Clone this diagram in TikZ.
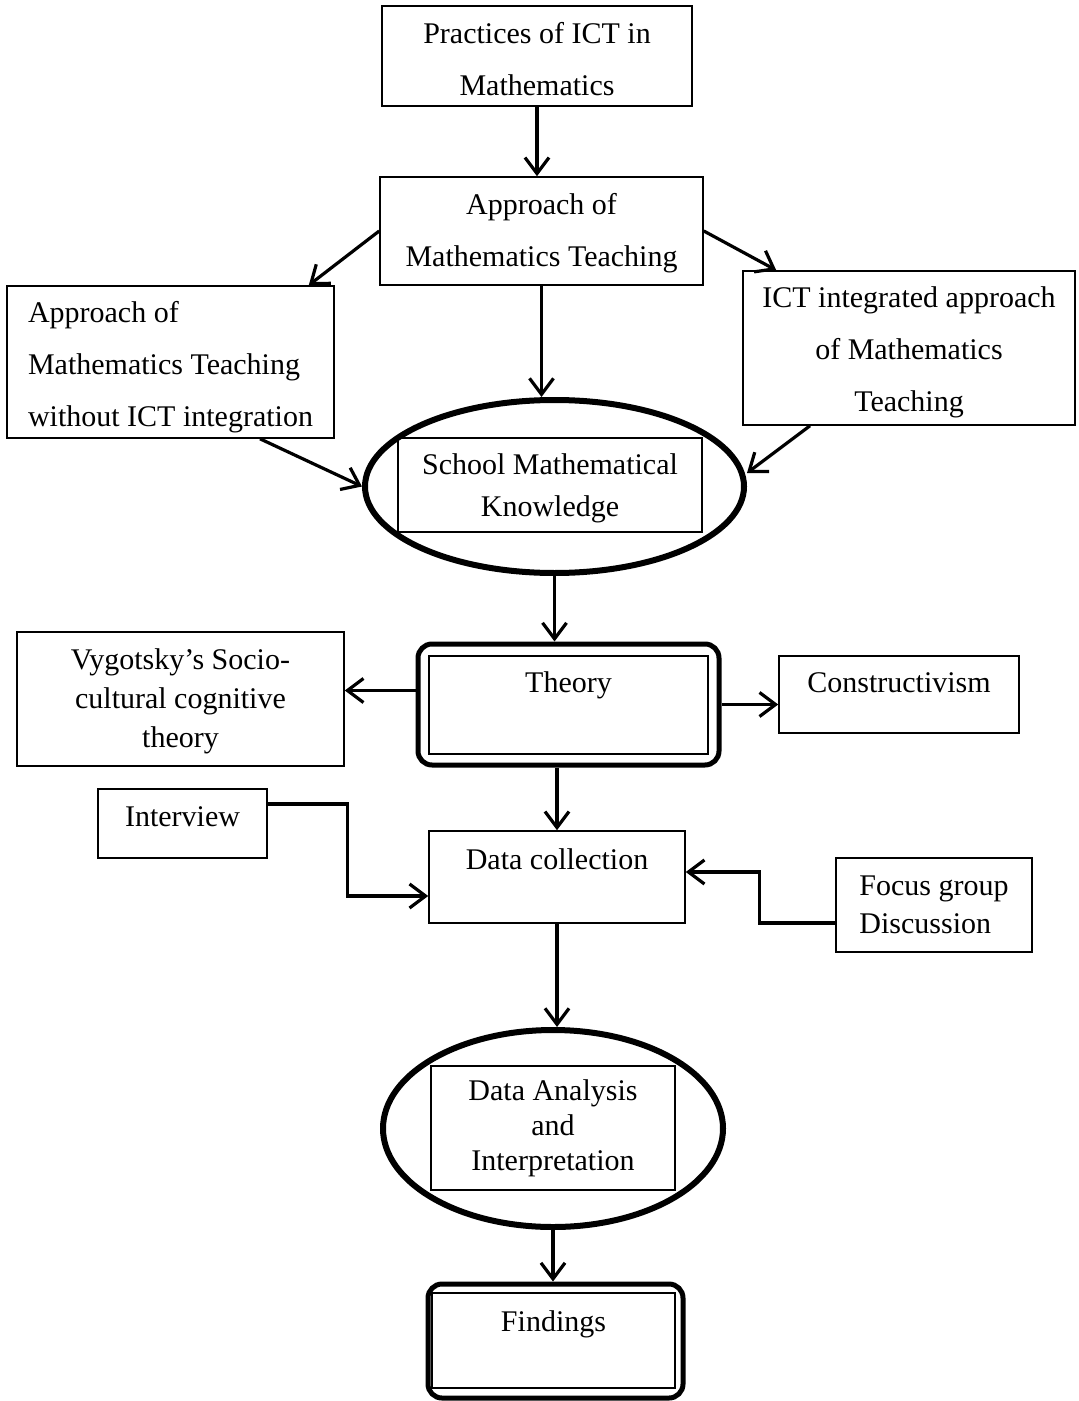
\documentclass[tikz,border=0pt]{standalone}
\usepackage{fontspec}
\setmainfont{Liberation Serif}
\usepackage{tikz}
\usetikzlibrary{
    arrows.meta,
    shapes.geometric
}
\tikzset{
    textbox/.style={
        rectangle,
        draw=black,
        line width=0.8pt,
        align=center,
        inner sep=2pt,
        font=\fontsize{15pt}{26pt}\selectfont
    },
    oval/.style={
        ellipse,
        draw=black,
        line width=3pt,
        inner sep=0pt
    },
    roundframe/.style={
        rectangle,
        rounded corners=7pt,
        draw=black,
        line width=2.5pt,
        inner sep=0pt
    },
    lifted/.style={
        text height=11pt,
        text depth=#1
    },
    arrow/.style={
        -{Straight Barb[length=8pt,width=12pt]},
        line width=1.6pt
    }
}

\begin{document}
\begin{tikzpicture}[x=0.5pt, y=-0.5pt]
\useasboundingbox (0,0) rectangle (1078,1401);

\node[textbox, text height=39.2pt, minimum width=155pt, minimum height=50pt] (practices) at (537,56) {Practices of ICT in\\Mathematics};
\node[textbox, text height=39.2pt, minimum width=161.5pt, minimum height=54pt] (approach) at (541.5,231) {Approach of\\Mathematics Teaching};
\node[textbox, text height=68.2pt, align=left, minimum width=163.5pt, minimum height=76pt] (withoutict) at (170.5,362) {Approach of\\Mathematics Teaching\\without ICT integration};
\node[textbox, text height=67.2pt, minimum width=166pt, minimum height=77pt] (ictapproach) at (909,348) {ICT integrated approach\\of Mathematics\\Teaching};

\node[oval, minimum width=189.5pt, minimum height=86.5pt] (school) at (554.5,486.5) {};
\node[textbox, text height=35.2pt, font=\fontsize{15pt}{21pt}\selectfont, minimum width=152pt, minimum height=47pt] (schooltext) at (550,485) {School Mathematical\\Knowledge};

\node[roundframe, minimum width=150.5pt, minimum height=60.5pt] (theory) at (568.5,704.5) {};
\node[textbox, lifted=24pt, minimum width=139.5pt, minimum height=49pt] (theorytext) at (568.5,705) {Theory};
\node[textbox, text height=52.2pt, font=\fontsize{15pt}{19.5pt}\selectfont, minimum width=163.5pt, minimum height=67pt] (vygotsky) at (180.5,699) {Vygotsky’s Socio-\\cultural cognitive\\theory};
\node[textbox, lifted=13.5pt, minimum width=120pt, minimum height=38.5pt] (constructivism) at (899,694.5) {Constructivism};

\node[textbox, lifted=8.5pt, minimum width=84.5pt, minimum height=34.5pt] (interview) at (182.5,823.5) {Interview};
\node[textbox, lifted=19pt, minimum width=128pt, minimum height=46pt] (datacoll) at (557,877) {Data collection};
\node[textbox, align=left, font=\fontsize{15pt}{19pt}\selectfont, minimum width=98pt, minimum height=47pt] (focus) at (934,905) {Focus group\\Discussion};

\node[oval, minimum width=170pt, minimum height=98.5pt] (analysis) at (553,1128.5) {};
\node[textbox, font=\fontsize{15pt}{17.5pt}\selectfont, minimum width=122pt, minimum height=62pt] (analysistext) at (553,1128) {Data Analysis\\and\\Interpretation};

\node[roundframe, minimum width=127.5pt, minimum height=57pt] (findings) at (555.5,1341) {};
\node[textbox, lifted=20.5pt, minimum width=121.5pt, minimum height=47.5pt] (findingstext) at (553.5,1340.5) {Findings};

\draw[arrow] (practices.south) -- (practices.south |- approach.north);
\draw[arrow] (approach.west) -- ([xshift=-13pt]withoutict.north east);
\draw[arrow] (approach.east) -- ([xshift=17pt]ictapproach.north west);
\draw[arrow] (approach.south) -- (approach.south |- school.north);
\draw[arrow] ([xshift=44.75pt]withoutict.south) -- (school.west);
\draw[arrow] ([xshift=-49.5pt]ictapproach.south) -- ([yshift=6.75pt]school.east);
\draw[arrow] (school.south) -- (school.south |- theory.north);
\draw[arrow] ([yshift=7pt]theory.west) -- ([yshift=7pt]theory.west -| vygotsky.east);
\draw[arrow] (theory.east) -- (theory.east -| constructivism.west);
\draw[arrow] (datacoll.north |- theory.south) -- (datacoll.north);
\draw[arrow] ([yshift=9.75pt]interview.east) -- ++(40pt,0) |- ([yshift=-9.5pt]datacoll.west);
\draw[arrow] ([yshift=-9pt]focus.west) -- ++(-38pt,0) |- ([yshift=2.5pt]datacoll.east);
\draw[arrow] (datacoll.south) -- (datacoll.south |- analysis.north);
\draw[arrow] (analysis.south) -- (analysis.south |- findings.north);
\end{tikzpicture}
\end{document}
